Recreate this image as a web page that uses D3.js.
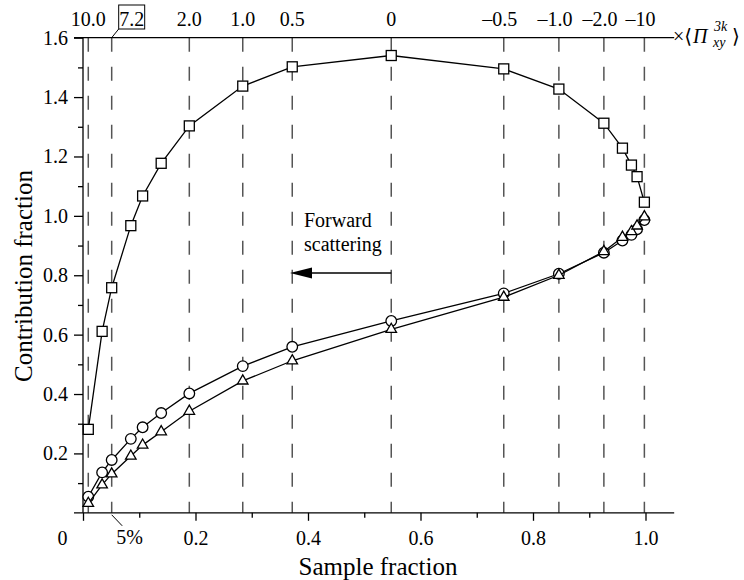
<!DOCTYPE html>
<html><head><meta charset="utf-8">
<script src="https://cdn.jsdelivr.net/npm/d3@7"></script>
<style>
body{margin:0;background:#fff;}
svg, svg text{font-family:"Liberation Serif","DejaVu Serif",serif;}
</style></head>
<body><svg id="c" width="744" height="580"></svg>
<script>
// ---- data ----
const sampleFraction = [0.0094, 0.034, 0.051, 0.085, 0.106, 0.139, 0.189, 0.284, 0.372, 0.548, 0.748, 0.846, 0.926, 0.959, 0.975, 0.985, 0.998];
const squareSeries   = [0.281, 0.611, 0.758, 0.967, 1.067, 1.177, 1.303, 1.437, 1.502, 1.540, 1.495, 1.427, 1.312, 1.228, 1.171, 1.132, 1.046];
const circleSeries   = [0.054, 0.136, 0.178, 0.249, 0.288, 0.336, 0.402, 0.494, 0.559, 0.646, 0.739, 0.805, 0.876, 0.917, 0.936, 0.955, 0.986];
const triangleSeries = [0.032, 0.094, 0.131, 0.191, 0.228, 0.273, 0.342, 0.444, 0.512, 0.618, 0.726, 0.800, 0.880, 0.928, 0.947, 0.966, 0.997];
const thresholdPos    = [0.0094, 0.051, 0.189, 0.284, 0.372, 0.548, 0.748, 0.846, 0.926, 0.998];
const thresholdLabels = ["10.0", "7.2", "2.0", "1.0", "0.5", "0", "\u20130.5", "\u20131.0", "\u20132.0", "\u201310"];
const xMajorTicks = [0, 0.2, 0.4, 0.6, 0.8, 1.0];
const xMinorTicks = [0.1, 0.3, 0.5, 0.7, 0.9];
const yMajorTicks = [0.2, 0.4, 0.6, 0.8, 1.0, 1.2, 1.4, 1.6];
const yMinorTicks = [0.1, 0.3, 0.5, 0.7, 0.9, 1.1, 1.3, 1.5];

const FONT = "'Liberation Serif', 'DejaVu Serif', serif";
const svg = d3.select("#c").attr("font-family", FONT);
const x = d3.scaleLinear().domain([0, 1]).range([83, 645.5]);
const y = d3.scaleLinear().domain([0, 1.6]).range([512.8, 37.7]);
const xLeft = -0.016, xRight = 1.051;

function txt(parent, px, py, size, s, anchor) {
  return parent.append("text").attr("x", px).attr("y", py).attr("font-size", size)
    .attr("font-family", FONT).attr("fill", "#000").attr("text-anchor", anchor || "start").text(s);
}

// dashed vertical lines
svg.append("g").selectAll("line").data(thresholdPos).join("line")
  .attr("x1", d => x(d)).attr("x2", d => x(d))
  .attr("y1", y(1.6)).attr("y2", y(0))
  .attr("stroke", "#555").attr("stroke-width", 1.5)
  .attr("stroke-dasharray", "14,15");

// top labels
const topG = svg.append("g");
thresholdLabels.forEach((t, i) => {
  const px = x(thresholdPos[i]);
  if (t === "7.2") {
    txt(topG, px + 20, 26, 20, t, "middle");
    topG.append("rect").attr("x", px + 7).attr("y", 5).attr("width", 26).attr("height", 24)
      .attr("fill", "none").attr("stroke", "#000").attr("stroke-width", 1);
    topG.append("line").attr("x1", px + 7).attr("y1", 29).attr("x2", px).attr("y2", y(1.6))
      .attr("stroke", "#000").attr("stroke-width", 1);
  } else {
    txt(topG, px + (t.startsWith("\u2013") ? -4 : 0), 26, 20, t, "middle");
  }
});

// axis lines
svg.append("line").attr("x1", x(xLeft)).attr("x2", x(xRight)).attr("y1", y(0)).attr("y2", y(0))
  .attr("stroke", "#000").attr("stroke-width", 1.3);
svg.append("line").attr("x1", x(xLeft)).attr("x2", x(xRight)).attr("y1", y(1.6)).attr("y2", y(1.6))
  .attr("stroke", "#000").attr("stroke-width", 1.3);
svg.append("line").attr("x1", x(0)).attr("x2", x(0)).attr("y1", y(0)).attr("y2", y(1.6))
  .attr("stroke", "#000").attr("stroke-width", 1.3);

// x axis
const xAxis = svg.append("g").attr("transform", `translate(0,${y(0)})`)
  .call(d3.axisBottom(x).tickValues(xMajorTicks).tickSize(8).tickPadding(10)
    .tickFormat(d => d === 0 ? "0" : d.toFixed(1)));
svg.append("g").attr("transform", `translate(0,${y(0)})`)
  .call(d3.axisBottom(x).tickValues(xMinorTicks).tickSize(5).tickFormat(""));
// y axis
svg.append("g").attr("transform", `translate(${x(0)},0)`)
  .call(d3.axisLeft(y).tickValues(yMajorTicks).tickSize(9).tickPadding(6).tickFormat(d3.format(".1f")));
svg.append("g").attr("transform", `translate(${x(0)},0)`)
  .call(d3.axisLeft(y).tickValues(yMinorTicks).tickSize(5).tickFormat(""));
svg.selectAll(".domain").remove();
svg.selectAll("g").attr("font-family", FONT);
svg.selectAll(".tick line").attr("stroke", "#000").attr("stroke-width", 1.3);
svg.selectAll(".tick text").attr("font-family", FONT).attr("font-size", 20).attr("fill", "#000");
xAxis.selectAll(".tick text").filter(d => d === 0).attr("x", -21);

// 5% label
svg.append("line").attr("x1", x(0.051)).attr("y1", y(0) + 2).attr("x2", x(0.051) + 10.5).attr("y2", y(0) + 13)
  .attr("stroke", "#000").attr("stroke-width", 1);
txt(svg, x(0.051) + 18, 544, 20, "5%", "middle");

// axis titles
txt(svg, 378, 575, 25, "Sample fraction", "middle");
txt(svg, 0, 0, 25, "Contribution fraction", "middle").attr("transform", "translate(32,276) rotate(-90)");

// right label ×⟨Π_xy^3k⟩
txt(svg, 692, 43, 20, "\u00d7\u27e8", "end");
txt(svg, 693, 43, 20, "\u03a0").attr("font-style", "italic");
txt(svg, 713, 47, 14, "xy").attr("font-style", "italic");
txt(svg, 714, 31, 14, "3k").attr("font-style", "italic");
txt(svg, 732, 43, 20, "\u27e9");

// Forward scattering
txt(svg, 304, 227, 20, "Forward");
txt(svg, 304, 251, 20, "scattering");
svg.append("line").attr("x1", x(0.548)).attr("x2", 305).attr("y1", 273).attr("y2", 273)
  .attr("stroke", "#000").attr("stroke-width", 1.3);
svg.append("path").attr("d", "M290,273 L312,267.5 L312,278.5 Z").attr("fill", "#000");

// series
const line = d3.line().x(d => x(d[0])).y(d => y(d[1]));
function series(vals, type) {
  const pts = sampleFraction.map((s, i) => [s, vals[i]]);
  svg.append("path").datum(pts).attr("d", line).attr("fill", "none")
    .attr("stroke", "#000").attr("stroke-width", 1.3);
  const g = svg.append("g");
  if (type === "square") {
    g.selectAll("rect").data(pts).join("rect")
      .attr("x", d => x(d[0]) - 5).attr("y", d => y(d[1]) - 5).attr("width", 10).attr("height", 10)
      .attr("fill", "#fff").attr("stroke", "#000").attr("stroke-width", 1.3);
  } else if (type === "circle") {
    g.selectAll("circle").data(pts).join("circle")
      .attr("cx", d => x(d[0])).attr("cy", d => y(d[1])).attr("r", 5.3)
      .attr("fill", "#fff").attr("stroke", "#000").attr("stroke-width", 1.3);
  } else {
    const sym = d3.symbol().type(d3.symbolTriangle).size(48);
    g.selectAll("path").data(pts).join("path")
      .attr("transform", d => `translate(${x(d[0])},${y(d[1])})`).attr("d", sym)
      .attr("fill", "#fff").attr("stroke", "#000").attr("stroke-width", 1.3);
  }
}
series(circleSeries, "circle");
series(triangleSeries, "triangle");
series(squareSeries, "square");
</script></body></html>
